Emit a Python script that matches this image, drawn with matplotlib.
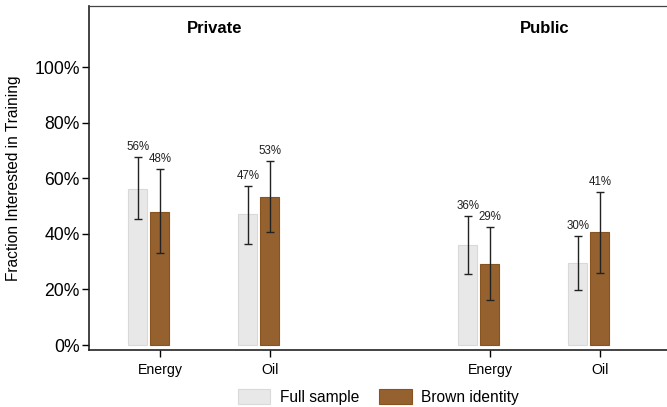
import numpy as np
from matplotlib import pyplot as plt
from matplotlib.ticker import FuncFormatter

plt.rcParams['font.family'] = ['Liberation Sans', 'DejaVu Sans']

# Data
categories = ['Energy', 'Oil', 'Energy', 'Oil']
groups = ['Private', 'Public']
full_sample = [56, 47, 36, 29.5]
full_lo = [45.3, 36.3, 25.5, 19.8]
full_hi = [67.6, 57.2, 46.5, 39.2]
brown_identity = [48, 53.3, 29, 40.5]
brown_lo = [33.1, 40.6, 16.2, 26.0]
brown_hi = [63.3, 66.2, 42.3, 55.0]
full_labels = ['56%', '47%', '36%', '30%']
brown_labels = ['48%', '53%', '29%', '41%']

COL_FULL = '#E8E8E8'
COL_FULL_EDGE = '#D9D9D9'
COL_BROWN = '#95622F'
COL_BROWN_EDGE = '#87531F'

x = np.array([1, 2, 4, 5])
w = 0.172
off = 0.2

fig = plt.figure(figsize=(6.67, 4.07), dpi=100)
ax = fig.add_axes([0.1334, 0.14, 0.8666, 0.8453])

full = np.array(full_sample)
brown = np.array(brown_identity)

ax.bar(x - off, full, width=w, color=COL_FULL, edgecolor=COL_FULL_EDGE,
       linewidth=0.8, label='Full sample', zorder=2)
ax.bar(x, brown, width=w, color=COL_BROWN, edgecolor=COL_BROWN_EDGE,
       linewidth=0.8, label='Brown identity', zorder=2)

fy = (np.array(full_lo) + np.array(full_hi)) / 2
ax.errorbar(x - off, fy, yerr=[fy - np.array(full_lo), np.array(full_hi) - fy],
            fmt='none', ecolor='#222222', elinewidth=1.0, capsize=2.8,
            capthick=1.0, zorder=3)
by = (np.array(brown_lo) + np.array(brown_hi)) / 2
ax.errorbar(x, by, yerr=[by - np.array(brown_lo), np.array(brown_hi) - by],
            fmt='none', ecolor='#222222', elinewidth=1.0, capsize=2.8,
            capthick=1.0, zorder=3)

for xi, hi, lab in zip(x - off, full_hi, full_labels):
    ax.text(xi, hi + 1.5, lab, ha='center', va='bottom', fontsize=8.3,
            color='#222222')
for xi, hi, lab in zip(x, brown_hi, brown_labels):
    ax.text(xi, hi + 1.5, lab, ha='center', va='bottom', fontsize=8.3,
            color='#222222')

# Group titles
ax.text(1.5, 114, groups[0], ha='center', va='center', fontsize=12,
        fontweight='bold')
ax.text(4.5, 114, groups[1], ha='center', va='center', fontsize=12,
        fontweight='bold')

ax.set_xlim(0.355, 5.61)
ax.set_ylim(-1.8, 122)
ax.set_xticks(x)
ax.set_xticklabels(categories, fontsize=10.2)
ax.set_yticks([0, 20, 40, 60, 80, 100])
ax.yaxis.set_major_formatter(FuncFormatter(lambda v, p: f'{int(v)}%'))
ax.tick_params(axis='y', labelsize=12.7, length=5, width=1, pad=1.5)
ax.tick_params(axis='x', length=5, width=1, pad=4)

ax.set_ylabel('Fraction Interested in Training', fontsize=11.2)
ax.yaxis.set_label_coords(-0.118, 0.5)

for s in ['left', 'bottom']:
    ax.spines[s].set_linewidth(1.2)
    ax.spines[s].set_color('#222222')
ax.spines['top'].set_linewidth(0.9)
ax.spines['top'].set_color('#444444')
ax.spines['right'].set_visible(False)

fig.legend(loc='upper center', bbox_to_anchor=(0.567, 0.06), ncol=2,
           frameon=False, fontsize=11.2, handlelength=2.1, handleheight=1.1,
           columnspacing=1.3, handletextpad=0.6, borderaxespad=0)

fig.savefig('out.png', dpi=100)
